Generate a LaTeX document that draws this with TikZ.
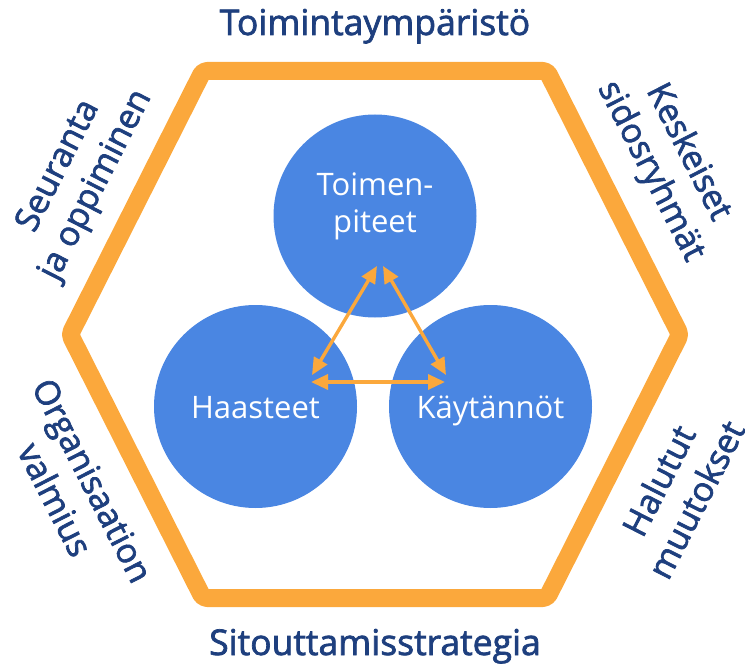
\documentclass[tikz,border=0pt]{standalone}
\usepackage{fontspec}
\setmainfont{Open Sans}
\newfontfamily\semib[FakeBold=2]{Open Sans}
\usetikzlibrary{arrows.meta}
\definecolor{hexorange}{HTML}{FBA83C}
\definecolor{circblue}{HTML}{4A86E2}
\definecolor{navy}{HTML}{1E3F7E}
\begin{document}
\begin{tikzpicture}[x=1pt,y=-1pt,
  circ/.style={circle,fill=circblue,minimum size=203pt,inner sep=0pt},
  ctext/.style={text=white,font=\fontsize{31}{36}\selectfont,anchor=base,inner sep=0pt},
  lbl/.style={text=navy,font=\semib\fontsize{34}{42}\selectfont,align=center,inner sep=0pt},
  ttl/.style={text=navy,font=\semib\fontsize{35.5}{40}\selectfont,anchor=base,inner sep=0pt},
  link/.style={draw=hexorange,line width=3.4pt,{Triangle[length=17pt,width=15pt]}-{Triangle[length=17pt,width=15pt]}}]
\useasboundingbox (0,0) rectangle (745,666);
% hexagon frame
\draw[hexorange,line width=18pt,rounded corners=4pt,line join=round]
  (203,71) -- (547,71) -- (680,334.5) -- (547,598) -- (203,598) -- (70,334.5) -- cycle;
% circles
\node[circ] (tp) at (375,216) {};
\node[circ] (lf) at (255.5,406.5) {};
\node[circ] (rt) at (490.5,406.5) {};
\node[ctext] (tp1) at (375,196) {Toimen-};
\node[ctext] (tp2) at (375,232.5) {piteet};
\node[ctext] (lft) at (255.5,418) {Haasteet};
\node[ctext] (rtt) at (490.5,418) {Käytännöt};
% arrows
\coordinate (a1) at (377,266);
\coordinate (a2) at (312,375);
\coordinate (b1) at (383,266);
\coordinate (b2) at (446,375);
\coordinate (c1) at (311,382);
\coordinate (c2) at (445,382);
\draw[link] (a1) -- (a2);
\draw[link] (b1) -- (b2);
\draw[link] (c1) -- (c2);
% titles
\node[ttl] (t1) at (375,35) {Toimintaympäristö};
\node[ttl] (t2) at (375,655) {Sitouttamisstrategia};
% side labels
\node[lbl,rotate=63] (sl) at (78,176) {Seuranta\\ja oppiminen};
\node[lbl,rotate=-63] (kl) at (669,162) {Keskeiset\\sidosryhmät};
\node[lbl,rotate=-63] (ol) at (74,490) {Organisaation\\valmius};
\node[lbl,rotate=63] (hl) at (677,490) {Halutut\\muutokset};
\end{tikzpicture}
\end{document}
